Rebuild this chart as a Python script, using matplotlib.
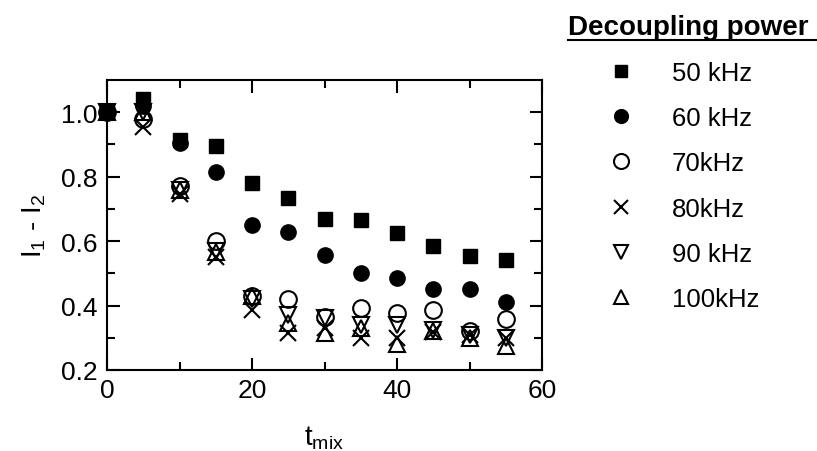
import numpy as np
import matplotlib
matplotlib.use('Agg')
import matplotlib.pyplot as plt
from matplotlib.lines import Line2D

t_mix = [0, 5, 10, 15, 20, 25, 30, 35, 40, 45, 50, 55]

khz50 = [1.00, 1.04, 0.915, 0.895, 0.78, 0.735, 0.67, 0.665, 0.625, 0.585, 0.555, 0.54]
khz60 = [1.00, 1.02, 0.905, 0.815, 0.65, 0.627, 0.558, 0.50, 0.487, 0.452, 0.450, 0.41]
khz70 = [1.00, 0.98, 0.77, 0.60, 0.43, 0.42, 0.366, 0.392, 0.377, 0.387, 0.322, 0.358]
khz80 = [1.00, 0.955, 0.745, 0.55, 0.385, 0.315, 0.33, 0.30, 0.30, 0.318, 0.31, 0.30]
khz90 = [1.00, 1.00, 0.76, 0.57, 0.42, 0.372, 0.36, 0.34, 0.34, 0.325, 0.31, 0.30]
khz100 = [1.00, 1.00, 0.76, 0.565, 0.43, 0.345, 0.315, 0.33, 0.28, 0.32, 0.30, 0.273]

labels = ['50 kHz', '60 kHz', '70kHz', '80kHz', '90 kHz', '100kHz']


def main():
    plt.rcParams['font.family'] = ['Liberation Sans', 'DejaVu Sans']
    plt.rcParams['mathtext.fontset'] = 'custom'
    plt.rcParams['mathtext.rm'] = 'Liberation Sans'
    plt.rcParams['mathtext.default'] = 'regular'

    fig = plt.figure(figsize=(8.17, 4.52), dpi=100)
    ax = fig.add_axes([107 / 817, 81 / 452, 435 / 817, 290 / 452])

    series = [khz50, khz60, khz70, khz80, khz90, khz100]
    styles = [
        dict(marker='s', ms=9.5, mfc='black', mec='black'),
        dict(marker='o', ms=11, mfc='black', mec='black'),
        dict(marker='o', ms=12, mfc='none', mec='black', mew=1.5),
        dict(marker='x', ms=11, mec='black', mew=1.5),
        dict(marker='v', ms=11, mfc='none', mec='black', mew=1.5),
        dict(marker='^', ms=11, mfc='none', mec='black', mew=1.5),
    ]
    handles = []
    for vals, st, lab in zip(series, styles, labels):
        h, = ax.plot(t_mix, vals, ls='none', color='black', label=lab, clip_on=False, **st)
        handles.append(h)

    ax.set_xlim(0, 60)
    ax.set_ylim(0.2, 1.1)
    ax.set_xticks([0, 20, 40, 60])
    ax.set_xticks([10, 30, 50], minor=True)
    ax.set_yticks([0.2, 0.4, 0.6, 0.8, 1.0])
    ax.set_yticks([0.3, 0.5, 0.7, 0.9], minor=True)
    ax.set_yticklabels(['0.2', '0.4', '0.6', '0.8', '1.0'])
    ax.tick_params(which='both', direction='in', top=True, right=True, labelsize=19, width=1.5)
    ax.tick_params(which='major', length=9)
    ax.tick_params(which='minor', length=6)
    ax.tick_params(axis='x', pad=6)
    ax.tick_params(axis='y', pad=7)
    for sp in ax.spines.values():
        sp.set_linewidth(1.5)

    ax.set_xlabel('t$_{mix}$', fontsize=20, labelpad=15)
    ax.set_ylabel('I$_1$ - I$_2$', fontsize=20, labelpad=9)

    # legend outside on the right
    fig.text(568 / 817, 1 - 35 / 452, 'Decoupling power', fontsize=20, fontweight='bold',
             va='baseline', ha='left')
    fig.add_artist(Line2D([568 / 817, 1.0], [1 - 41 / 452, 1 - 41 / 452], color='black', lw=1.5,
                          transform=fig.transFigure))
    fig.legend(handles=handles, loc='upper left', bbox_to_anchor=(0.725, 0.886),
               frameon=False, fontsize=18.5, markerscale=0.9, labelspacing=0.83,
               handletextpad=1.3, handlelength=1.4, borderaxespad=0)

    plt.savefig('out.png', dpi=100)


if __name__ == '__main__':
    main()
